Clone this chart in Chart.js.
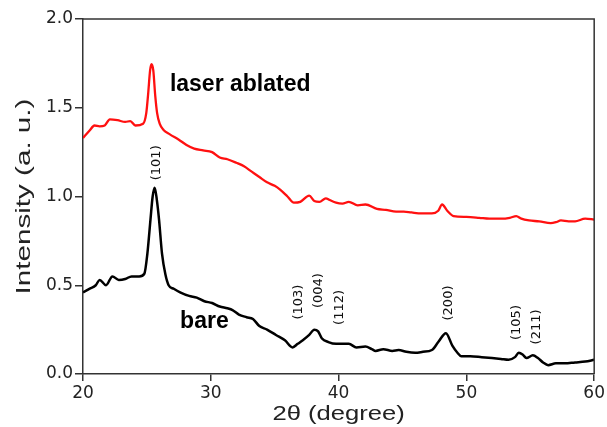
<!DOCTYPE html>
<html>
<head>
<meta charset="utf-8">
<script src="https://cdn.jsdelivr.net/npm/chart.js@4.4.1/dist/chart.umd.min.js"></script>
<style>
  body { margin: 0; background: #fff; }
  canvas { display: block; }
</style>
</head>
<body>
<canvas id="xrdChart" width="607" height="427"></canvas>
<script>
// XRD patterns
const bareTheta = [20.0, 20.5, 21.0, 21.3, 21.8, 22.3, 22.8, 23.3, 23.8, 24.4, 24.8, 25.04, 25.28, 25.45, 25.61, 25.78, 25.95, 26.18, 26.45, 26.7, 27.1, 27.6, 28.3, 28.9, 29.5, 30.1, 30.7, 31.3, 31.7, 32.2, 32.8, 33.3, 33.8, 34.4, 35.1, 35.8, 36.4, 36.8, 37.2, 37.7, 38.1, 38.4, 38.7, 39.2, 39.8, 40.3, 40.8, 41.4, 42.1, 42.6, 42.9, 43.5, 44.2, 44.7, 45.3, 46.0, 46.6, 47.3, 47.8, 48.4, 48.9, 49.3, 49.6, 50.3, 51.2, 52.0, 52.7, 53.3, 53.8, 54.1, 54.4, 54.7, 55.2, 55.6, 56.0, 56.4, 57.0, 57.7, 58.5, 59.3, 60.0];
const bareIntensity = [0.46, 0.48, 0.50, 0.53, 0.50, 0.55, 0.53, 0.535, 0.55, 0.55, 0.565, 0.68, 0.87, 1.0, 1.05, 0.98, 0.87, 0.68, 0.56, 0.50, 0.48, 0.46, 0.44, 0.43, 0.41, 0.40, 0.38, 0.37, 0.36, 0.335, 0.32, 0.31, 0.27, 0.25, 0.22, 0.19, 0.15, 0.17, 0.19, 0.22, 0.25, 0.24, 0.20, 0.18, 0.17, 0.17, 0.17, 0.15, 0.155, 0.14, 0.13, 0.14, 0.13, 0.135, 0.125, 0.12, 0.125, 0.135, 0.18, 0.23, 0.16, 0.12, 0.10, 0.10, 0.095, 0.09, 0.085, 0.08, 0.095, 0.12, 0.11, 0.09, 0.105, 0.09, 0.065, 0.05, 0.06, 0.06, 0.065, 0.07, 0.08];

const laserTheta = [20.0, 20.5, 20.9, 21.3, 21.7, 22.1, 22.7, 23.3, 23.7, 24.1, 24.7, 24.95, 25.1, 25.25, 25.36, 25.5, 25.65, 25.8, 26.0, 26.3, 26.8, 27.5, 28.1, 28.7, 29.4, 30.1, 30.7, 31.3, 32.0, 32.6, 33.2, 33.8, 34.4, 35.0, 35.4, 36.0, 36.5, 37.0, 37.7, 38.1, 38.5, 39.0, 39.3, 39.8, 40.3, 40.8, 41.5, 42.1, 43.0, 43.7, 44.5, 45.1, 45.7, 46.5, 47.3, 47.8, 48.1, 48.5, 49.0, 50.0, 51.0, 51.8, 52.7, 53.4, 53.9, 54.3, 54.9, 55.7, 56.6, 57.0, 57.4, 58.0, 58.5, 59.3, 60.0];
const laserIntensity = [1.33, 1.37, 1.40, 1.395, 1.40, 1.435, 1.43, 1.42, 1.425, 1.40, 1.41, 1.47, 1.58, 1.71, 1.745, 1.71, 1.57, 1.47, 1.41, 1.375, 1.35, 1.32, 1.29, 1.27, 1.26, 1.25, 1.22, 1.21, 1.19, 1.17, 1.14, 1.11, 1.08, 1.06, 1.04, 1.00, 0.965, 0.97, 1.005, 0.975, 0.97, 0.99, 0.98, 0.965, 0.96, 0.97, 0.95, 0.955, 0.93, 0.925, 0.915, 0.915, 0.91, 0.905, 0.905, 0.92, 0.955, 0.92, 0.89, 0.885, 0.88, 0.875, 0.875, 0.88, 0.89, 0.875, 0.865, 0.86, 0.85, 0.855, 0.865, 0.86, 0.86, 0.875, 0.87];

const xTicks = [20, 30, 40, 50, 60];
const yTicks = [0, 0.5, 1.0, 1.5, 2.0];

// peak indices, placed in data units
const peakLabels = [
    { text: "(101)", x: 25.75, y: 1.19 },
    { text: "(103)", x: 36.85, y: 0.405 },
    { text: "(004)", x: 38.4, y: 0.47 },
    { text: "(112)", x: 40.1, y: 0.375 },
    { text: "(200)", x: 48.6, y: 0.40 },
    { text: "(105)", x: 53.95, y: 0.29 },
    { text: "(211)", x: 55.5, y: 0.265 }
];
const seriesLabels = [
    { text: "laser ablated", x: 32.3, y: 1.63 },
    { text: "bare", x: 29.5, y: 0.295 }
];

function toPoints(xs, ys) {
    return xs.map((x, i) => ({ x: x, y: ys[i] }));
}

const labelPlugin = {
    id: "labels",
    afterDraw(chart) {
        const ctx = chart.ctx;
        const xs = chart.scales.x;
        const ys = chart.scales.y;
        const area = chart.chartArea;

        // frame on top and right
        ctx.save();
        ctx.strokeStyle = "#333";
        ctx.lineWidth = 1.5;
        ctx.beginPath();
        ctx.moveTo(area.left, area.top);
        ctx.lineTo(area.right, area.top);
        ctx.lineTo(area.right, area.bottom);
        ctx.stroke();

        ctx.fillStyle = "#111";
        ctx.textAlign = "center";
        ctx.textBaseline = "middle";
        ctx.font = "13px 'DejaVu Sans', sans-serif";
        peakLabels.forEach(p => {
            ctx.save();
            ctx.translate(xs.getPixelForValue(p.x), ys.getPixelForValue(p.y));
            ctx.rotate(-Math.PI / 2);
            ctx.fillText(p.text, 0, 0);
            ctx.restore();
        });

        ctx.fillStyle = "#000";
        ctx.font = "bold 23px 'Liberation Sans', Arial, sans-serif";
        seriesLabels.forEach(s => {
            ctx.fillText(s.text, xs.getPixelForValue(s.x), ys.getPixelForValue(s.y));
        });

        // axis titles, the original lettering is spread out along the line
        ctx.fillStyle = "#222";
        ctx.font = "20px 'Liberation Sans', Arial, sans-serif";
        ctx.textBaseline = "alphabetic";
        ctx.save();
        ctx.translate((area.left + area.right) / 2, 420);
        ctx.scale(1.28, 1);
        ctx.fillText("2θ (degree)", 0, 0);
        ctx.restore();

        ctx.save();
        ctx.translate(29.5, (area.top + area.bottom) / 2);
        ctx.rotate(-Math.PI / 2);
        ctx.scale(1.48, 1);
        ctx.fillText("Intensity (a. u.)", 0, 0);
        ctx.restore();
        ctx.restore();
    }
};

const tickFont = { family: "'DejaVu Sans', sans-serif", size: 17 };

new Chart(document.getElementById("xrdChart"), {
    type: "line",
    data: {
        datasets: [
            {
                label: "laser ablated",
                data: toPoints(laserTheta, laserIntensity),
                borderColor: "#ff1010",
                borderWidth: 2.3,
                pointRadius: 0,
                cubicInterpolationMode: "monotone"
            },
            {
                label: "bare",
                data: toPoints(bareTheta, bareIntensity),
                borderColor: "#000",
                borderWidth: 2.5,
                pointRadius: 0,
                cubicInterpolationMode: "monotone"
            }
        ]
    },
    options: {
        responsive: false,
        animation: false,
        layout: { padding: { top: 19, right: 11, left: 0, bottom: 0 } },
        plugins: {
            legend: { display: false },
            tooltip: { enabled: false }
        },
        scales: {
            x: {
                type: "linear",
                min: 20,
                max: 60,
                afterBuildTicks: axis => { axis.ticks = xTicks.map(v => ({ value: v })); },
                afterFit: axis => { axis.height = 53; },
                ticks: { color: "#222", font: tickFont, padding: 2, maxRotation: 0 },
                grid: { drawOnChartArea: false, tickLength: 7, color: "#333", lineWidth: 1.5 },
                border: { color: "#333", width: 1.5 }
            },
            y: {
                min: 0,
                max: 2,
                afterBuildTicks: axis => { axis.ticks = yTicks.map(v => ({ value: v })); },
                afterFit: axis => { axis.width = 83; },
                ticks: { color: "#222", font: tickFont, padding: 2, callback: v => v.toFixed(1) },
                grid: { drawOnChartArea: false, tickLength: 8, color: "#333", lineWidth: 1.5 },
                border: { color: "#333", width: 1.5 }
            }
        }
    },
    plugins: [labelPlugin]
});
</script>
</body>
</html>
